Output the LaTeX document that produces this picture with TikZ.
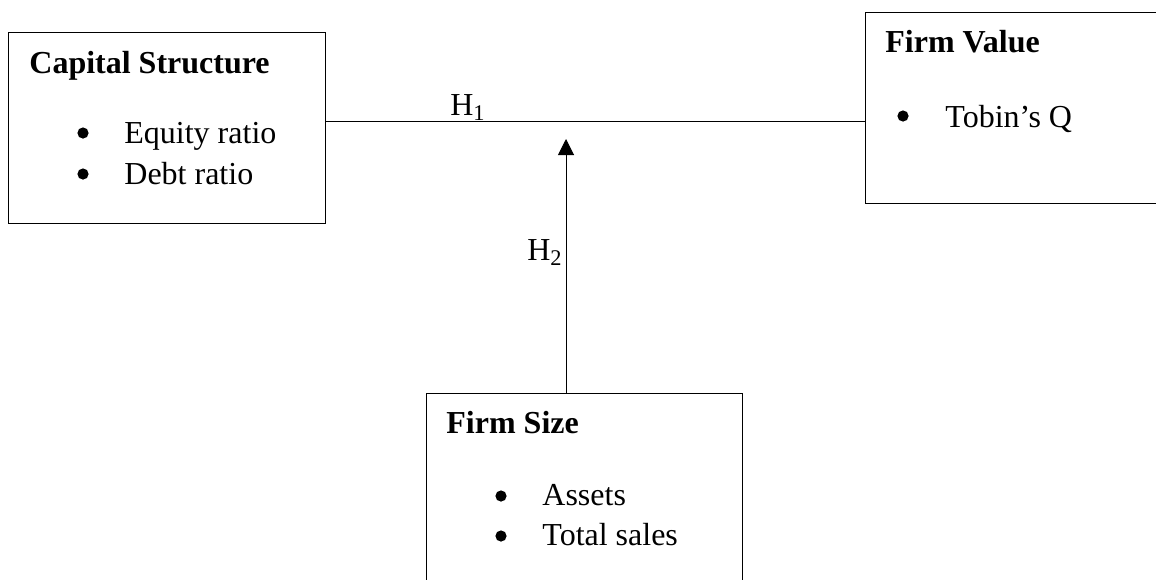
\documentclass[tikz,border=0pt]{standalone}
\usepackage{fontspec}
\setmainfont{Liberation Serif}
\usetikzlibrary{arrows.meta,positioning}
\tikzset{
  font=\fontsize{16}{19}\selectfont,
  frame/.style={draw, line width=0.5pt, inner sep=0pt},
  title/.style={anchor=base west, inner sep=0pt, font=\fontsize{16}{19}\selectfont\bfseries},
  item/.style={anchor=base west, inner sep=0pt},
  dot/.style={circle, fill, inner sep=0pt, minimum size=5.6pt},
  hyp/.style={inner sep=0pt},
  link/.style={line width=0.5pt},
  arrow/.style={link, -{Triangle[length=8pt, width=8pt]}},
}
\begin{document}
\begin{tikzpicture}[x=0.5pt, y=-0.5pt]
\useasboundingbox (0,0) rectangle (1156,579);
% boxes
\node[frame, minimum width=158.5pt, minimum height=95.5pt] (capstr) at (166.5,127.5) {};
\node[frame, minimum width=160pt, minimum height=95.5pt] (fvalue) at (1025,107.5) {};
\node[frame, minimum width=158pt, minimum height=120pt] (fsize) at (584,513) {};
% capital structure
\node[title] (capttl) at (29,73) {Capital Structure};
\node[dot] (b1) at (83,133) {};
\node[item] (equity) at (124,143) {Equity ratio};
\node[dot] (b2) at (83,174) {};
\node[item] (debt) at (124,184) {Debt ratio};
% firm value
\node[title] (fvttl) at (885,52) {Firm Value};
\node[dot] (b3) at (903,116) {};
\node[item] (tobin) at (945,127) {Tobin’s Q};
% firm size
\node[title] (fsttl) at (446,433) {Firm Size};
\node[dot] (b4) at (501,496) {};
\node[item] (assets) at (542,505) {Assets};
\node[dot] (b5) at (501,536) {};
\node[item] (sales) at (542,545) {Total sales};
% hypotheses
\coordinate (join) at (566,121);
\coordinate (tip) at (566,139);
\draw[link] (join -| capstr.east) -- (join -| fvalue.west);
\draw[arrow] (tip |- fsize.north) -- (tip);
\node[hyp, anchor=base] (h1) at (468,115) {H\textsubscript{1}};
\node[hyp, anchor=base east] (h2) at (563,260) {H\textsubscript{2}};
\end{tikzpicture}
\end{document}
